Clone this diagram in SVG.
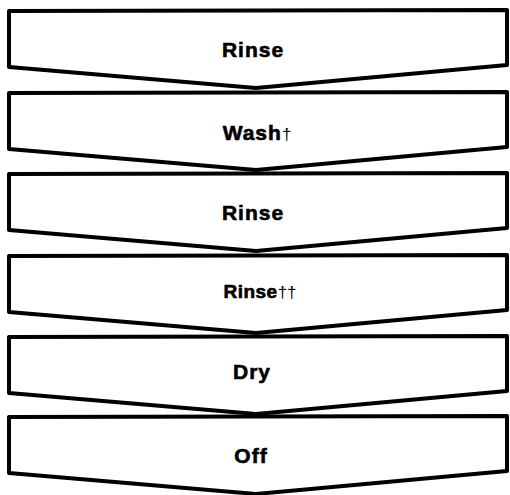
<svg xmlns="http://www.w3.org/2000/svg" width="510" height="495" viewBox="0 0 510 495">
<style>
.step{fill:#fff;stroke:#000;stroke-width:4;stroke-linejoin:round}
.lbl{font-family:"Liberation Sans",Arial,sans-serif;font-weight:bold;font-size:21px;fill:#000;stroke:#000;stroke-width:0.6;text-anchor:middle;letter-spacing:1px}
.dag{font-weight:normal;font-size:17px;letter-spacing:0;stroke-width:0}
</style>
<defs>
<path id="chev" d="M9,0 L507,-1 L507,54 L256,77 L9,56 Z"/>
</defs>
<rect width="510" height="495" fill="#fff"/>
<g id="connectors"></g>
<g id="step1"><use href="#chev" class="step" transform="translate(0,11)"/><text class="lbl" x="253" y="57">Rinse</text></g>
<g id="step2"><use href="#chev" class="step" transform="translate(0,93)"/><text class="lbl" x="257" y="140">Wash<tspan class="dag">†</tspan></text></g>
<g id="step3"><use href="#chev" class="step" transform="translate(0,174)"/><text class="lbl" x="253" y="220">Rinse</text></g>
<g id="step4"><use href="#chev" class="step" transform="translate(0,256)"/><text class="lbl" x="260" y="298" style="font-size:19px;letter-spacing:0.5px">Rinse<tspan class="dag">††</tspan></text></g>
<g id="step5"><use href="#chev" class="step" transform="translate(0,337)"/><text class="lbl" x="252" y="379">Dry</text></g>
<g id="step6"><use href="#chev" class="step" transform="translate(0,417)"/><text class="lbl" x="251" y="463">Off</text></g>
</svg>
